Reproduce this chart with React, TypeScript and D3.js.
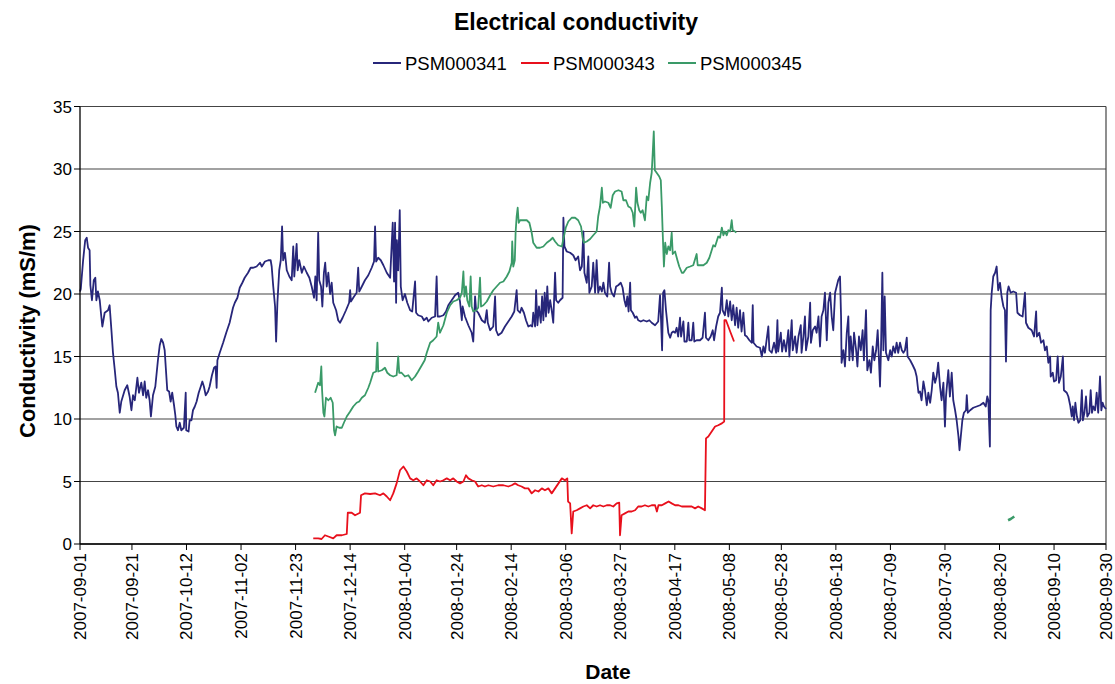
import React from "react";
import * as d3 from "d3";

// ---------------- DATA ----------------
// Day offsets are counted from 2007-09-01; values in mS/m.
const startDate = "2007-09-01";
const endDate = "2008-09-30";

const tickLabels = [
  "2007-09-01", "2007-09-21", "2007-10-12", "2007-11-02", "2007-11-23",
  "2007-12-14", "2008-01-04", "2008-01-24", "2008-02-14", "2008-03-06",
  "2008-03-27", "2008-04-17", "2008-05-08", "2008-05-28", "2008-06-18",
  "2008-07-09", "2008-07-30", "2008-08-20", "2008-09-10", "2008-09-30",
];

const yTicks = [0, 5, 10, 15, 20, 25, 30, 35];

const seriesNames = ["PSM000341", "PSM000343", "PSM000345"];
const seriesColors = ["#27267a", "#e8101c", "#3a9a68"];

// PSM000341 [day, value]
const psm341: [number, number][] = [
  [0, 20.2], [0.3, 20.4], [1.2, 22.7], [2.0, 24.3], [2.6, 24.5], [3.1, 23.7], [3.7, 23.5], [4.0, 20.7],
  [4.6, 19.5], [5.3, 21.1], [5.9, 21.3], [6.3, 19.5], [6.9, 20.2], [7.6, 19.5], [8.2, 18.2], [8.6, 17.4],
  [9.5, 18.5], [10.8, 18.7], [11.4, 19.1], [12.1, 17.1], [12.7, 15.3], [13.4, 13.9], [14.0, 12.6], [14.6, 12.1],
  [15.3, 10.5], [15.9, 11.4], [17.2, 12.3], [18.2, 12.7], [19.1, 11.8], [19.8, 10.7], [20.4, 11.9], [21.1, 11.5],
  [22.1, 13.3], [22.7, 12.1], [23.6, 12.9], [24.3, 11.9], [24.9, 13.0], [25.5, 11.7], [26.2, 12.3], [26.8, 11.5],
  [27.3, 10.2], [28.1, 11.9], [29.0, 12.6], [30.0, 14.7], [30.7, 15.9], [31.3, 16.4], [32.0, 16.1], [32.6, 15.5],
  [33.0, 14.2], [33.6, 12.3], [34.3, 12.2], [34.9, 11.4], [35.5, 12.1], [36.2, 11.1], [36.7, 10.3], [37.1, 9.4],
  [37.7, 9.1], [38.4, 9.7], [39.0, 9.1], [40.0, 9.3], [40.7, 12.1], [40.9, 9.1], [41.8, 9.0], [42.2, 9.9],
  [42.9, 9.9], [43.5, 10.7], [44.2, 11.0], [44.9, 11.4], [45.7, 12.1], [46.5, 12.6], [47.1, 13.0], [47.7, 12.6],
  [48.4, 11.9], [49.3, 12.2], [49.9, 12.6], [50.8, 13.5], [51.6, 14.1], [52.2, 14.2], [52.6, 12.5], [52.9, 14.7],
  [53.8, 15.3], [55.1, 16.1], [56.3, 16.9], [57.6, 17.7], [58.9, 18.9], [59.6, 19.3], [60.6, 19.7], [61.5, 20.5],
  [62.5, 20.9], [63.4, 21.3], [64.7, 21.7], [65.7, 22.1], [66.7, 22.1], [68.0, 22.2], [69.3, 22.5], [70.0, 22.2],
  [71.2, 22.6], [72.5, 22.7], [73.4, 22.7], [73.8, 22.2], [74.4, 20.6], [75.1, 19.0], [75.5, 16.2], [76.0, 19.3],
  [76.7, 21.9], [77.3, 22.7], [77.8, 25.4], [78.2, 22.7], [78.9, 23.3], [79.6, 21.9], [80.6, 21.4], [81.5, 21.1],
  [82.1, 23.8], [82.5, 21.4], [83.4, 24.0], [83.8, 21.9], [84.4, 22.7], [85.4, 21.7], [86.2, 22.2], [87.3, 21.7],
  [88.3, 21.3], [89.2, 20.6], [90.1, 19.7], [90.6, 21.4], [91.1, 19.5], [91.7, 24.9], [92.1, 21.1], [92.8, 20.6],
  [93.3, 19.0], [93.9, 21.7], [94.4, 22.5], [95.0, 20.6], [95.6, 21.7], [96.3, 20.0], [96.9, 20.9], [97.5, 19.3],
  [98.6, 18.7], [99.4, 17.9], [100.1, 17.7], [101.1, 18.1], [102.4, 18.7], [103.6, 19.3], [104.0, 20.3], [104.3, 19.4],
  [105.5, 19.8], [106.5, 20.1], [107.1, 22.1], [107.5, 20.2], [108.5, 20.6], [109.7, 21.1], [111.0, 21.5], [112.3, 22.1],
  [113.2, 22.6], [113.6, 25.4], [114.0, 22.6], [114.8, 22.9], [115.8, 22.7], [116.8, 22.3], [118.1, 21.7], [119.4, 21.3],
  [120.4, 25.7], [120.9, 21.0], [121.3, 25.7], [121.7, 19.3], [122.0, 24.3], [122.5, 21.9], [123.1, 26.7], [123.5, 20.6],
  [124.2, 19.5], [125.1, 20.0], [126.0, 19.3], [127.1, 18.7], [127.9, 18.6], [129.0, 21.0], [129.4, 18.5], [130.2, 18.3],
  [131.6, 18.2], [132.4, 17.9], [133.5, 18.1], [134.1, 17.8], [135.4, 18.1], [136.7, 18.2], [137.3, 21.4], [137.7, 18.2],
  [138.6, 18.2], [139.9, 18.3], [140.9, 18.6], [141.8, 19.1], [143.1, 19.5], [144.4, 19.9], [145.6, 20.1], [146.3, 19.4],
  [147.0, 17.9], [147.3, 19.0], [148.2, 18.2], [149.5, 17.5], [150.8, 16.9], [151.4, 16.2], [152.1, 19.8], [152.5, 18.7],
  [153.3, 18.5], [154.7, 17.9], [155.9, 17.7], [156.6, 18.7], [157.0, 17.7], [157.9, 17.1], [159.1, 17.4], [159.8, 19.8],
  [160.2, 17.1], [161.0, 16.7], [162.3, 16.9], [163.6, 17.4], [164.9, 17.8], [166.2, 18.2], [167.2, 18.6], [168.1, 20.3],
  [168.5, 18.7], [169.4, 18.5], [170.0, 18.9], [170.9, 18.5], [171.7, 17.9], [172.6, 17.4], [173.5, 17.5], [174.1, 17.4],
  [174.5, 18.5], [175.2, 17.4], [175.6, 20.3], [176.1, 17.5], [176.7, 19.0], [177.4, 17.7], [177.9, 19.8], [178.4, 17.9],
  [178.9, 20.1], [179.4, 18.2], [179.9, 20.6], [180.4, 18.5], [181.0, 19.5], [181.6, 18.7], [182.2, 17.7], [182.9, 21.7],
  [183.3, 19.5], [184.1, 19.3], [184.8, 19.5], [185.8, 19.7], [186.1, 26.1], [186.5, 23.8], [187.4, 23.4], [188.7, 23.3],
  [189.9, 23.1], [190.8, 22.7], [191.8, 23.0], [192.5, 21.9], [193.2, 22.2], [193.8, 25.0], [194.2, 21.7], [195.1, 20.9],
  [195.7, 23.0], [196.1, 20.1], [197.0, 20.6], [197.6, 22.5], [198.3, 20.1], [198.9, 22.7], [199.5, 20.1], [200.2, 20.6],
  [200.9, 20.2], [201.5, 20.9], [202.1, 20.1], [203.0, 19.8], [203.7, 22.5], [204.1, 20.6], [204.7, 20.1], [205.6, 19.8],
  [206.4, 20.6], [207.2, 20.7], [208.2, 20.9], [208.9, 20.5], [209.6, 19.5], [210.2, 19.0], [210.7, 19.8], [211.2, 18.6],
  [211.8, 20.9], [212.1, 18.7], [212.8, 18.5], [213.7, 18.1], [214.3, 18.2], [214.9, 17.9], [215.9, 17.8], [216.9, 17.9],
  [218.2, 17.8], [219.2, 17.9], [220.1, 17.7], [221.4, 17.5], [222.6, 17.8], [223.3, 19.9], [223.7, 17.9], [224.1, 15.5],
  [224.5, 20.1], [225.0, 20.3], [225.6, 18.7], [226.5, 16.9], [227.2, 16.5], [227.8, 16.9], [228.4, 17.0], [229.1, 16.9],
  [229.7, 17.3], [230.3, 16.6], [231.0, 18.1], [231.4, 16.6], [232.3, 17.8], [232.7, 16.2], [233.6, 16.2], [234.2, 17.7],
  [234.6, 16.3], [235.5, 16.3], [236.1, 17.7], [236.5, 16.2], [237.4, 16.3], [238.7, 16.3], [239.7, 16.5], [240.6, 18.5],
  [241.0, 16.5], [241.9, 16.3], [242.8, 16.6], [243.6, 17.1], [244.1, 16.3], [244.9, 17.4], [245.7, 18.2], [246.4, 18.5],
  [247.1, 20.5], [247.4, 18.7], [248.3, 18.3], [249.0, 19.5], [249.6, 18.2], [250.3, 19.4], [250.9, 17.9], [251.5, 19.1],
  [252.2, 17.5], [252.8, 18.9], [253.4, 17.3], [254.1, 18.7], [254.7, 17.0], [255.4, 18.5], [256.0, 16.7], [256.7, 16.6],
  [257.7, 16.3], [258.6, 16.1], [259.0, 19.1], [259.3, 16.1], [260.5, 15.8], [261.8, 15.7], [262.5, 15.0], [263.1, 15.8],
  [263.7, 15.3], [265.0, 17.4], [265.4, 15.5], [266.3, 15.3], [267.2, 16.1], [268.0, 15.3], [268.5, 17.9], [268.8, 15.4],
  [269.8, 16.9], [270.3, 15.4], [271.0, 16.3], [271.8, 15.4], [272.7, 17.1], [273.1, 15.0], [274.0, 17.9], [274.4, 15.5],
  [275.3, 16.6], [275.9, 15.3], [276.6, 16.6], [277.5, 17.5], [277.8, 15.3], [278.5, 16.6], [279.1, 18.2], [279.5, 15.5],
  [280.4, 16.6], [281.1, 19.3], [281.4, 16.1], [282.1, 17.1], [283.0, 17.4], [283.6, 16.9], [284.3, 18.2], [284.9, 15.8],
  [285.5, 18.2], [286.2, 18.7], [286.8, 20.1], [287.5, 16.3], [288.1, 19.3], [288.8, 20.1], [289.4, 18.2], [290.0, 17.1],
  [290.7, 20.1], [291.3, 20.6], [291.9, 21.1], [292.6, 21.4], [293.0, 18.2], [293.2, 14.5], [293.9, 15.5], [294.5, 14.2],
  [295.2, 16.9], [295.8, 18.2], [296.2, 14.7], [296.7, 16.6], [297.5, 14.7], [298.0, 16.9], [298.8, 15.5], [299.3, 14.2],
  [299.9, 16.6], [300.6, 15.5], [301.3, 17.1], [301.8, 14.7], [302.6, 18.7], [303.1, 13.9], [303.9, 14.7], [304.5, 13.7],
  [305.2, 15.8], [305.8, 14.7], [306.5, 15.5], [307.1, 17.1], [307.6, 14.7], [308.0, 12.6], [308.4, 15.8], [308.9, 21.7],
  [309.3, 15.5], [309.8, 19.8], [310.3, 15.3], [311.2, 14.7], [311.9, 15.5], [312.5, 15.0], [313.1, 15.8], [313.8, 15.3],
  [314.4, 16.1], [315.0, 15.3], [315.7, 16.1], [316.4, 15.5], [317.0, 15.3], [317.6, 15.5], [318.3, 16.5], [318.6, 15.0],
  [319.6, 14.7], [320.6, 14.3], [321.5, 13.9], [322.1, 13.4], [322.8, 12.1], [323.4, 12.2], [324.0, 11.5], [324.7, 13.0],
  [325.3, 12.3], [326.0, 11.1], [326.6, 12.1], [327.3, 11.3], [327.9, 12.3], [328.5, 13.7], [329.2, 12.9], [329.8, 13.4],
  [330.4, 14.5], [331.1, 12.6], [331.7, 11.5], [332.4, 12.9], [333.0, 9.4], [333.4, 11.8], [334.3, 13.9], [334.9, 11.8],
  [335.6, 13.7], [336.2, 11.5], [336.9, 10.7], [337.5, 9.9], [338.2, 8.6], [338.6, 7.5], [339.1, 8.6], [339.7, 9.9],
  [340.3, 10.5], [341.1, 10.7], [341.4, 11.9], [341.8, 10.5], [342.7, 10.7], [343.9, 10.9], [345.2, 11.0], [346.5, 11.1],
  [347.8, 11.3], [348.7, 11.0], [349.3, 11.8], [349.7, 11.5], [350.3, 7.8], [350.6, 18.7], [351.0, 20.1], [351.6, 21.4],
  [352.3, 21.7], [352.9, 22.2], [353.5, 20.3], [354.2, 20.9], [354.8, 19.8], [355.5, 19.0], [356.1, 18.7], [356.5, 14.6],
  [357.0, 20.1], [357.5, 20.6], [358.3, 20.1], [359.3, 20.2], [360.4, 20.1], [360.9, 18.5], [361.9, 18.3], [362.9, 18.2],
  [363.8, 20.1], [364.2, 17.7], [365.1, 17.3], [366.4, 17.1], [367.3, 16.6], [368.1, 18.6], [368.4, 16.6], [369.3, 16.9],
  [370.0, 16.1], [370.9, 16.3], [371.5, 15.5], [372.2, 15.8], [372.8, 14.5], [373.5, 15.0], [373.7, 13.4], [374.5, 13.7],
  [375.0, 13.0], [375.8, 13.1], [376.4, 15.0], [376.9, 12.9], [377.6, 13.4], [378.4, 15.0], [378.8, 12.3], [379.9, 12.1],
  [380.5, 11.8], [381.2, 11.1], [381.8, 10.2], [382.2, 11.0], [382.7, 9.9], [383.2, 11.3], [383.8, 10.2], [384.4, 9.7],
  [385.1, 9.9], [385.7, 12.3], [386.1, 9.9], [386.7, 10.5], [387.3, 11.8], [387.8, 10.2], [388.6, 10.5], [389.1, 12.3],
  [389.6, 10.5], [390.1, 11.0], [390.8, 10.7], [391.4, 12.1], [392.0, 10.5], [392.7, 13.4], [393.2, 10.7], [393.7, 11.3],
  [394.2, 11.0], [395.0, 10.8],
];

// PSM000343 [day, value]
const psm343: [number, number][] = [
  [89.8, 0.45], [91.7, 0.45], [93.0, 0.4], [94.3, 0.7], [95.6, 0.6], [97.5, 0.45], [98.8, 0.7], [100.8, 0.7],
  [102.7, 0.8], [103.1, 2.5], [104.6, 2.5], [105.9, 2.3], [107.8, 2.5], [108.2, 3.9], [109.7, 4.05], [111.7, 4.0],
  [113.6, 4.05], [115.5, 3.9], [116.8, 4.05], [118.1, 3.8], [119.4, 3.5], [120.6, 4.05], [121.9, 4.85], [123.2, 5.9],
  [124.5, 6.2], [125.8, 5.8], [127.1, 5.25], [128.3, 5.1], [129.6, 5.25], [130.9, 5.0], [132.2, 4.7], [133.5, 5.1],
  [134.8, 5.0], [136.0, 4.7], [137.3, 5.1], [138.6, 5.0], [139.9, 5.1], [141.2, 5.25], [142.5, 5.1], [143.7, 5.25],
  [145.0, 5.0], [146.3, 4.85], [147.6, 5.0], [148.6, 5.5], [149.5, 5.25], [150.8, 5.1], [152.1, 5.0], [153.3, 4.6],
  [154.7, 4.7], [155.9, 4.6], [157.2, 4.7], [159.1, 4.6], [161.0, 4.7], [163.0, 4.7], [164.9, 4.6], [166.2, 4.7],
  [167.5, 4.85], [168.7, 4.7], [170.0, 4.6], [171.3, 4.45], [172.6, 4.45], [173.9, 4.05], [175.2, 4.3], [176.5, 4.2],
  [177.8, 4.45], [179.0, 4.3], [180.3, 4.45], [181.6, 4.05], [182.9, 4.45], [184.2, 4.85], [185.5, 5.25], [186.7, 5.1],
  [187.6, 5.25], [187.9, 3.4], [188.7, 3.25], [189.3, 0.85], [189.9, 2.6], [191.2, 2.7], [192.5, 2.85], [193.8, 3.0],
  [195.1, 3.1], [196.4, 2.85], [197.6, 3.1], [198.9, 3.0], [200.2, 3.1], [201.5, 3.0], [202.8, 3.1], [204.1, 3.1],
  [205.3, 3.0], [206.6, 3.25], [207.6, 3.3], [207.9, 0.7], [208.5, 2.3], [209.8, 2.45], [211.1, 2.6], [212.4, 2.6],
  [213.7, 2.7], [214.9, 3.0], [216.2, 3.0], [217.5, 3.1], [218.8, 3.0], [220.1, 3.1], [221.4, 3.1], [222.1, 2.6],
  [222.7, 3.1], [224.0, 3.1], [225.3, 3.25], [226.6, 3.4], [227.8, 3.25], [229.1, 3.1], [230.4, 3.1], [231.7, 3.0],
  [233.0, 3.0], [234.2, 3.0], [235.5, 3.0], [236.8, 2.85], [238.0, 3.0], [239.4, 2.85], [240.6, 2.7], [241.0, 8.45],
  [241.9, 8.6], [243.2, 9.0], [244.5, 9.4], [245.7, 9.5], [247.1, 9.65], [248.0, 9.8], [248.1, 17.9], [248.7, 17.9],
  [249.6, 17.4], [250.5, 16.9], [251.8, 16.2],
];

// PSM000345 [day, value] (main record)
const psm345: [number, number][] = [
  [90.5, 12.1], [91.1, 12.5], [91.7, 12.9], [92.4, 12.7], [92.9, 14.2], [93.2, 12.3], [93.7, 10.5], [94.1, 10.2],
  [94.7, 11.7], [95.6, 11.5], [96.5, 11.7], [97.3, 11.3], [97.8, 9.1], [98.2, 8.7], [98.8, 9.4], [99.8, 9.3],
  [100.8, 9.3], [101.6, 9.7], [102.7, 10.2], [104.0, 10.6], [105.2, 11.0], [106.5, 11.3], [107.5, 11.4], [108.5, 11.7],
  [109.7, 11.9], [111.0, 12.5], [111.7, 12.9], [112.3, 13.3], [112.9, 13.7], [114.0, 13.8], [114.5, 16.1], [114.8, 13.8],
  [116.2, 13.9], [117.4, 14.1], [118.3, 13.7], [119.4, 13.5], [120.6, 13.4], [121.9, 13.5], [122.5, 15.0], [122.9, 13.7],
  [123.8, 13.7], [125.1, 13.4], [126.4, 13.5], [127.7, 13.1], [129.0, 13.4], [130.2, 13.8], [131.6, 14.3], [132.7, 14.7],
  [133.5, 15.3], [134.8, 16.1], [136.0, 16.3], [137.3, 16.6], [137.9, 17.7], [138.6, 16.9], [139.9, 17.5], [141.2, 18.5],
  [142.5, 19.1], [143.7, 19.4], [145.0, 19.5], [146.3, 19.7], [147.0, 20.1], [147.6, 21.8], [148.0, 19.8], [148.6, 20.6],
  [149.1, 19.5], [149.9, 19.0], [150.4, 21.4], [150.8, 19.0], [151.4, 18.6], [152.5, 18.7], [153.3, 18.9], [154.0, 21.3],
  [154.4, 19.0], [155.3, 19.1], [156.6, 19.4], [157.9, 19.9], [159.1, 20.3], [160.4, 20.6], [161.7, 20.9], [163.0, 21.0],
  [164.3, 21.4], [165.3, 21.8], [166.2, 22.5], [166.4, 24.2], [166.8, 22.2], [167.4, 22.7], [167.7, 24.9], [168.1, 26.2],
  [168.5, 26.9], [168.9, 25.7], [169.4, 25.9], [170.7, 25.9], [172.0, 25.9], [173.0, 25.7], [173.9, 24.9], [174.5, 24.1],
  [175.8, 23.7], [177.1, 23.7], [178.4, 23.8], [179.7, 24.1], [181.0, 24.3], [182.0, 24.5], [182.9, 24.2], [184.1, 23.9],
  [185.5, 23.8], [186.3, 24.6], [187.0, 25.3], [188.0, 25.8], [189.3, 26.1], [190.6, 26.1], [191.8, 25.9], [192.9, 25.4],
  [193.5, 24.5], [194.0, 24.1], [195.1, 24.2], [196.4, 24.4], [197.6, 24.7], [198.9, 25.0], [199.5, 26.2], [200.2, 27.0],
  [200.9, 28.5], [201.3, 27.3], [202.1, 27.4], [203.4, 27.3], [204.3, 26.9], [205.1, 27.9], [206.0, 28.2], [207.3, 28.3],
  [208.5, 28.2], [209.2, 27.5], [210.2, 27.5], [211.1, 27.0], [212.0, 26.9], [212.8, 26.5], [213.4, 25.4], [214.1, 28.5],
  [214.6, 27.3], [215.3, 26.7], [215.9, 26.5], [216.6, 26.7], [217.5, 25.9], [218.2, 27.8], [218.8, 27.5], [219.5, 28.9],
  [220.1, 29.7], [220.5, 31.3], [220.9, 33.0], [221.3, 29.9], [222.0, 29.7], [223.0, 29.4], [223.6, 29.1], [224.0, 27.0],
  [224.3, 25.1], [224.8, 22.2], [225.3, 24.1], [225.9, 23.2], [226.5, 23.8], [227.2, 23.5], [227.8, 24.9], [228.2, 23.2],
  [229.1, 23.4], [230.0, 22.7], [230.7, 22.2], [231.7, 21.7], [232.3, 21.7], [233.6, 22.1], [234.9, 22.2], [236.1, 22.3],
  [237.4, 23.2], [237.8, 22.3], [238.7, 22.3], [240.0, 22.3], [241.3, 22.5], [242.3, 22.9], [243.2, 23.5], [243.8, 23.9],
  [244.5, 23.8], [245.1, 24.2], [245.7, 24.6], [246.4, 24.5], [247.1, 25.3], [247.7, 24.7], [248.3, 25.0], [249.0, 24.7],
  [249.6, 25.1], [250.3, 25.0], [250.9, 25.9], [251.3, 25.1], [252.2, 25.0], [252.6, 24.9],
];

// PSM000345 short late record
const psm345late: [number, number][] = [
  [357.3, 1.9], [358.3, 2.0], [359.7, 2.2],
];

// ---------------- CHART ----------------
const W = 1115;
const H = 684;
const plot = { left: 80, right: 1106, top: 106.5, bottom: 544 };
const FONT = "'Liberation Sans', Arial, Helvetica, sans-serif";

const parse = d3.utcParse("%Y-%m-%d");
const t0 = parse(startDate)!;
const dayToDate = (d: number) => new Date(t0.getTime() + d * 86400000);

export default function App() {
  const x = d3.scaleUtc().domain([t0, parse(endDate)!]).range([plot.left, plot.right]);
  const y = d3.scaleLinear().domain([0, 35]).range([plot.bottom, plot.top]);

  const line = d3
    .line<[number, number]>()
    .x((d) => x(dayToDate(d[0])))
    .y((d) => y(d[1]));

  const tickDates = tickLabels.map((s) => parse(s)!);

  const legendItems = [
    { name: seriesNames[0], color: seriesColors[0], x: 373 },
    { name: seriesNames[1], color: seriesColors[1], x: 521 },
    { name: seriesNames[2], color: seriesColors[2], x: 668 },
  ];

  return (
    <svg
      width={W}
      height={H}
      style={{ position: "absolute", left: 0, top: 0, background: "#fff" }}
      fontFamily={FONT}
    >
      <rect x={0} y={0} width={W} height={H} fill="#fff" />
      {/* Title */}
      <text x={576} y={30} textAnchor="middle" fontSize={23} fontWeight="bold" fill="#000">
        Electrical conductivity
      </text>

      {/* Legend */}
      {legendItems.map((it) => (
        <g key={it.name}>
          <line x1={it.x} x2={it.x + 28} y1={63} y2={63} stroke={it.color} strokeWidth={2} />
          <text x={it.x + 32} y={69.5} fontSize={18.5} fill="#000">
            {it.name}
          </text>
        </g>
      ))}

      {/* Gridlines */}
      {yTicks.map((t) => (
        <line
          key={"g" + t}
          x1={plot.left}
          x2={plot.right}
          y1={y(t)}
          y2={y(t)}
          stroke="#444"
          strokeWidth={1.2}
        />
      ))}
      {/* Plot frame */}
      <line x1={plot.right} x2={plot.right} y1={plot.top} y2={plot.bottom} stroke="#444" strokeWidth={1.2} />

      {/* Series */}
      <g fill="none" strokeLinejoin="round" strokeWidth={1.8}>
        <path d={line(psm341) || ""} stroke={seriesColors[0]} />
        <path d={line(psm343) || ""} stroke={seriesColors[1]} />
        <path d={line(psm345) || ""} stroke={seriesColors[2]} />
        <path d={line(psm345late) || ""} stroke={seriesColors[2]} strokeWidth={2.5} />
      </g>

      {/* Axes */}
      <line x1={plot.left} x2={plot.left} y1={plot.top} y2={plot.bottom} stroke="#000" strokeWidth={1.3} />
      <line x1={plot.left} x2={plot.right} y1={plot.bottom} y2={plot.bottom} stroke="#000" strokeWidth={1.3} />

      {yTicks.map((t) => (
        <g key={"yt" + t}>
          <line x1={plot.left - 6} x2={plot.left} y1={y(t)} y2={y(t)} stroke="#000" />
          <text x={plot.left - 8} y={y(t) + 6} textAnchor="end" fontSize={17} fill="#000">
            {t}
          </text>
        </g>
      ))}

      {tickDates.map((d, i) => {
        const px = x(d);
        return (
          <g key={"xt" + i}>
            <line x1={px} x2={px} y1={plot.bottom} y2={plot.bottom + 6} stroke="#000" />
            <text
              transform={`translate(${px + 6},${plot.bottom + 9}) rotate(-90)`}
              textAnchor="end"
              fontSize={17}
              fill="#000"
            >
              {tickLabels[i]}
            </text>
          </g>
        );
      })}

      {/* Axis titles */}
      <text
        transform={`translate(${35},${331}) rotate(-90)`}
        textAnchor="middle"
        fontSize={22}
        fontWeight="bold"
        fill="#000"
      >
        Conductivity (mS/m)
      </text>
      <text x={608} y={679} textAnchor="middle" fontSize={21} fontWeight="bold" fill="#000">
        Date
      </text>
    </svg>
  );
}
